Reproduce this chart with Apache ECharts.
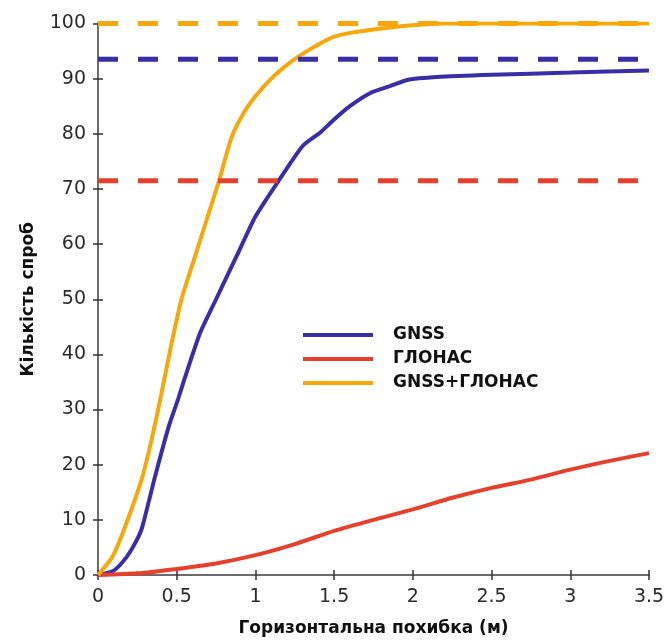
<!DOCTYPE html>
<html>
<head>
<meta charset="utf-8">
<script src="https://cdn.jsdelivr.net/npm/echarts@6/dist/echarts.min.js"></script>
<style>html,body{margin:0;padding:0;background:#fff}#c{width:669px;height:642px}</style>
</head>
<body>
<div id="c"></div>
<script>
// ---- data ----
const seriesNames = ['GNSS', 'ГЛОНАС', 'GNSS+ГЛОНАС'];
const xTicks = [0, 0.5, 1, 1.5, 2, 2.5, 3, 3.5];
const yTicks = [0, 10, 20, 30, 40, 50, 60, 70, 80, 90, 100];

const gnssX = [0, 0.1, 0.18, 0.24, 0.28, 0.36, 0.45, 0.51, 0.55, 0.65, 0.75, 0.9, 1.0, 1.15, 1.3, 1.41, 1.5, 1.6, 1.73, 1.85, 1.97, 2.15, 2.5, 3.0, 3.5];
const gnssY = [0, 0.8, 3.2, 6, 8.6, 17.6, 27, 32, 35.6, 44, 50, 59, 65, 71.6, 77.8, 80.2, 82.6, 85, 87.4, 88.6, 89.8, 90.3, 90.7, 91.1, 91.5];

const glonassX = [0, 0.25, 0.5, 0.75, 1.0, 1.25, 1.5, 1.75, 2.0, 2.25, 2.5, 2.75, 3.0, 3.25, 3.5];
const glonassY = [0, 0.3, 1.1, 2.1, 3.6, 5.6, 8.0, 10.0, 11.9, 14.0, 15.8, 17.3, 19.1, 20.7, 22.1];

const bothX = [0, 0.09, 0.17, 0.28, 0.34, 0.40, 0.46, 0.53, 0.63, 0.70, 0.77, 0.85, 0.93, 1.0, 1.1, 1.2, 1.3, 1.4, 1.5, 1.6, 1.8, 2.0, 2.2, 3.5];
const bothY = [0, 3.2, 8.6, 17.6, 24.5, 32.5, 41, 50, 59, 65.3, 71.6, 79.5, 84, 86.8, 90, 92.5, 94.5, 96.2, 97.6, 98.3, 99.1, 99.7, 100, 100];

// asymptote (dashed) levels: GNSS, ГЛОНАС, GNSS+ГЛОНАС
const refLevels = [93.5, 71.5, 100];
const xRange = [0, 3.5];

// ---- chart ----
const colors = ['#3a2ea6', '#e5402b', '#f6a70a'];
const zip = (xs, ys) => xs.map((x, i) => [x, ys[i]]);
const curves = [zip(gnssX, gnssY), zip(glonassX, glonassY), zip(bothX, bothY)];

const chart = echarts.init(document.getElementById('c'), null, {renderer: 'canvas'});
const axisLineStyle = {color: '#6b6b6b', width: 2};
const tickStyle = {show: true, inside: true, length: 5, lineStyle: {color: '#333', width: 1.5}};
const labelFont = {fontFamily: 'DejaVu Sans', fontSize: 19, color: '#2b2b2b'};
const nameFont = {fontFamily: 'DejaVu Sans', fontWeight: 'bold', fontSize: 17, color: '#111'};

const series = [];
seriesNames.forEach((n, i) => {
  series.push({
    name: n, type: 'line', data: curves[i], showSymbol: false, symbol: 'none',
    smooth: 0.2,
    lineStyle: {color: colors[i], width: 4}, itemStyle: {color: colors[i]}, z: 3
  });
});
refLevels.forEach((v, i) => {
  series.push({
    type: 'line', data: xRange.map(x => [x, v]), showSymbol: false, symbol: 'none',
    lineStyle: {color: colors[i], width: 5, type: [20, 20]}, z: 4, silent: true
  });
});

chart.setOption({
  animation: false,
  backgroundColor: '#fff',
  grid: {left: 98, right: 20, top: 23.5, bottom: 64.5, containLabel: false},
  legend: {
    data: seriesNames, orient: 'vertical', left: 298, top: 321,
    icon: 'rect', itemWidth: 70, itemHeight: 4, itemGap: 6,
    textStyle: Object.assign({lineHeight: 18, padding: [0, 0, 0, 15]}, nameFont)
  },
  xAxis: [{
    type: 'value', min: 0, max: 3.5, interval: 0.5, position: 'bottom',
    name: 'Горизонтальна похибка (м)', nameLocation: 'middle', nameGap: 45,
    nameTextStyle: nameFont,
    axisLine: {show: true, lineStyle: axisLineStyle},
    axisTick: tickStyle,
    axisLabel: Object.assign({margin: 13, formatter: v => xTicks.includes(v) ? String(v) : ''}, labelFont),
    splitLine: {show: false}
  }, {
    type: 'value', min: 0, max: 3.5, interval: 0.5, position: 'top',
    axisLine: {show: true, lineStyle: axisLineStyle},
    axisTick: tickStyle,
    axisLabel: {show: false}, splitLine: {show: false}
  }],
  yAxis: [{
    type: 'value', min: 0, max: 100, interval: 10, position: 'left',
    name: 'Кількість спроб', nameLocation: 'middle', nameGap: 61, nameRotate: 90,
    nameTextStyle: nameFont,
    axisLine: {show: true, lineStyle: axisLineStyle},
    axisTick: tickStyle,
    axisLabel: Object.assign({margin: 12, formatter: v => yTicks.includes(v) ? String(v) : ''}, labelFont),
    splitLine: {show: false}
  }, {
    type: 'value', min: 0, max: 100, interval: 10, position: 'right',
    axisLine: {show: true, lineStyle: axisLineStyle},
    axisTick: tickStyle,
    axisLabel: {show: false}, splitLine: {show: false}
  }],
  series: series
});
</script>
</body>
</html>
